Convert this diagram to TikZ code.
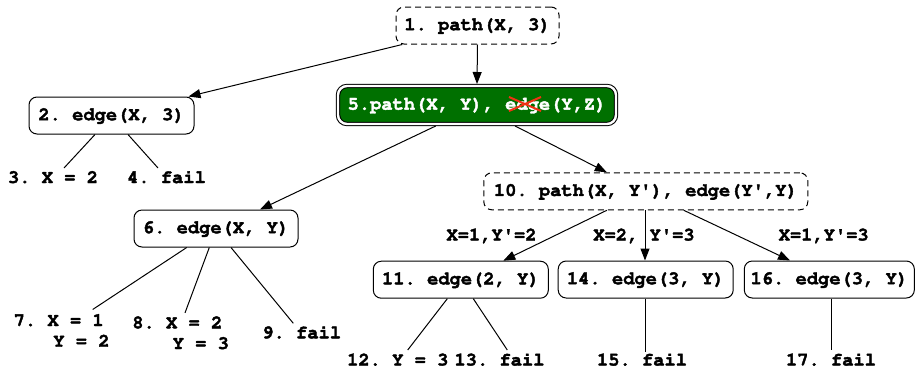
\documentclass[tikz,border=0pt]{standalone}
\usepackage[T1]{fontenc}
\usepackage{textcomp}
\usetikzlibrary{arrows.meta}
\definecolor{goalgreen}{RGB}{0,112,0}
\definecolor{crossred}{RGB}{240,50,20}
\newcommand{\q}{\textquotesingle}
\newcommand{\heavytext}{\special{pdf:literal 2 Tr 0.4 w}}
\tikzset{
  every node/.style={font=\fontfamily{pcr}\bfseries\fontsize{18.75}{20.7}\selectfont\frenchspacing},
  every node/.append style={execute at begin node=\heavytext},
  box/.style={draw, rounded corners=8pt, line width=1pt, minimum height=37pt, inner sep=0pt},
  dbox/.style={box, dash pattern=on 6pt off 4pt},
  goal/.style={draw=black, double=white, double distance=2.4pt, line width=1pt, fill=goalgreen,
    text=white, rounded corners=9pt, minimum height=38pt, inner sep=0pt, outer sep=2pt},
  leaf/.style={inner sep=0pt, outer sep=0pt, anchor=base, text height=12pt, text depth=2pt},
  leaftwo/.style={inner sep=0pt, outer sep=0pt, anchor=base west},
  lbl/.style={inner sep=0pt, outer sep=0pt, anchor=base},
  arr/.style={-{Triangle[length=12pt,width=9pt]}, line width=1pt},
  ln/.style={line width=1pt},
}
\begin{document}
\begin{tikzpicture}[x=1pt,y=-1pt]
\useasboundingbox (0,0) rectangle (917,368);
% boxes
\node[dbox, minimum width=163pt] (n1) at (477.5,25.5) {1. path(X, 3)};
\node[box, minimum width=165pt] (n2) at (111.5,115.5) {2. edge(X, 3)};
\node[goal, minimum width=278pt] (n5) at (477,105) {5.path(X, Y), edge(Y,Z)};
\node[box, minimum width=164pt] (n6) at (216,228.5) {6. edge(X, Y)};
\node[dbox, minimum width=324pt] (n10) at (645.8,191.3) {10. path(X, Y\q), edge(Y\q,Y)};
\node[box, minimum width=175pt] (n11) at (460.8,279.7) {11. edge(2, Y)};
\node[box, minimum width=175pt] (n14) at (645.7,279.5) {14. edge(3, Y)};
\node[box, minimum width=170pt] (n16) at (829.3,279.5) {16. edge(3, Y)};
% red cross
\draw[crossred, line width=2pt] (509,97) -- (541,111) (509,111) -- (541,97);
% leaves
\node[leaf] (l3) at (53,183) {3. X = 2};
\node[leaf] (l4) at (166.5,183) {4. fail};
\node[leaftwo] (l7) at (13.7,326) {\vtop{\hbox{7. X = 1}\hbox{\hspace*{39.6pt}Y = 2}}};
\node[leaftwo] (l8) at (132.3,328.3) {\vtop{\hbox{8. X = 2}\hbox{\hspace*{40.4pt}Y = 3}}};
\node[leaf] (l9) at (301.7,338.3) {9. fail};
\node[leaf] (l12) at (397.8,365.5) {12. Y = 3};
\node[leaf] (l13) at (499.5,365.5) {13. fail};
\node[leaf] (l15) at (642,365.5) {15. fail};
\node[leaf] (l17) at (831,365.5) {17. fail};
% edge labels
\node[lbl] (e11) at (491.5,240.5) {X=1,Y\q=2};
\node[lbl] (e14) at (644,240.5) {X=2, Y\q=3};
\node[lbl] (e16) at (823.7,240.5) {X=1,Y\q=3};
% arrows
\draw[arr] ([xshift=6.7pt]n1.south west) -- ([xshift=-6pt]n2.north east);
\draw[arr] (n1.south) -- (n5.north);
\draw[arr] ([xshift=-41.3pt]n5.south) -- ([xshift=44pt]n6.north);
\draw[arr] ([xshift=38pt]n5.south) -- ([xshift=-39pt]n10.north);
\draw[arr] ([xshift=-39pt]n10.south) -- ([xshift=42.5pt]n11.north);
\draw[arr] ([xshift=-0.8pt]n10.south) -- ([xshift=-0.7pt]n14.north);
\draw[arr] ([xshift=38pt]n10.south) -- ([xshift=-39.3pt]n16.north);
% lines to leaves
\draw[ln] ([xshift=-16.5pt]n2.south) -- ([xshift=11pt,yshift=3pt]l3.north);
\draw[ln] ([xshift=16.5pt]n2.south) -- ([xshift=-8.5pt,yshift=3pt]l4.north);
\draw[ln] ([xshift=-29.3pt]n6.south) -- ([xshift=79pt,yshift=4.7pt]l7.north west);
\draw[ln] ([xshift=-6.7pt]n6.south) -- ([xshift=52.7pt,yshift=3.6pt]l8.north west);
\draw[ln] ([xshift=15pt]n6.south) -- ([xshift=-8.4pt,yshift=3pt]l9.north);
\draw[ln] ([xshift=-13.5pt]n11.south) -- ([xshift=9.9pt,yshift=3.5pt]l12.north);
\draw[ln] ([xshift=12.5pt]n11.south) -- ([xshift=7.8pt,yshift=3.5pt]l13.north);
\draw[ln] ([xshift=-0.7pt]n14.south) -- ([xshift=3pt,yshift=1.8pt]l15.north);
\draw[ln] ([xshift=2pt]n16.south) -- ([xshift=0.3pt,yshift=3.5pt]l17.north);
\end{tikzpicture}
\end{document}
